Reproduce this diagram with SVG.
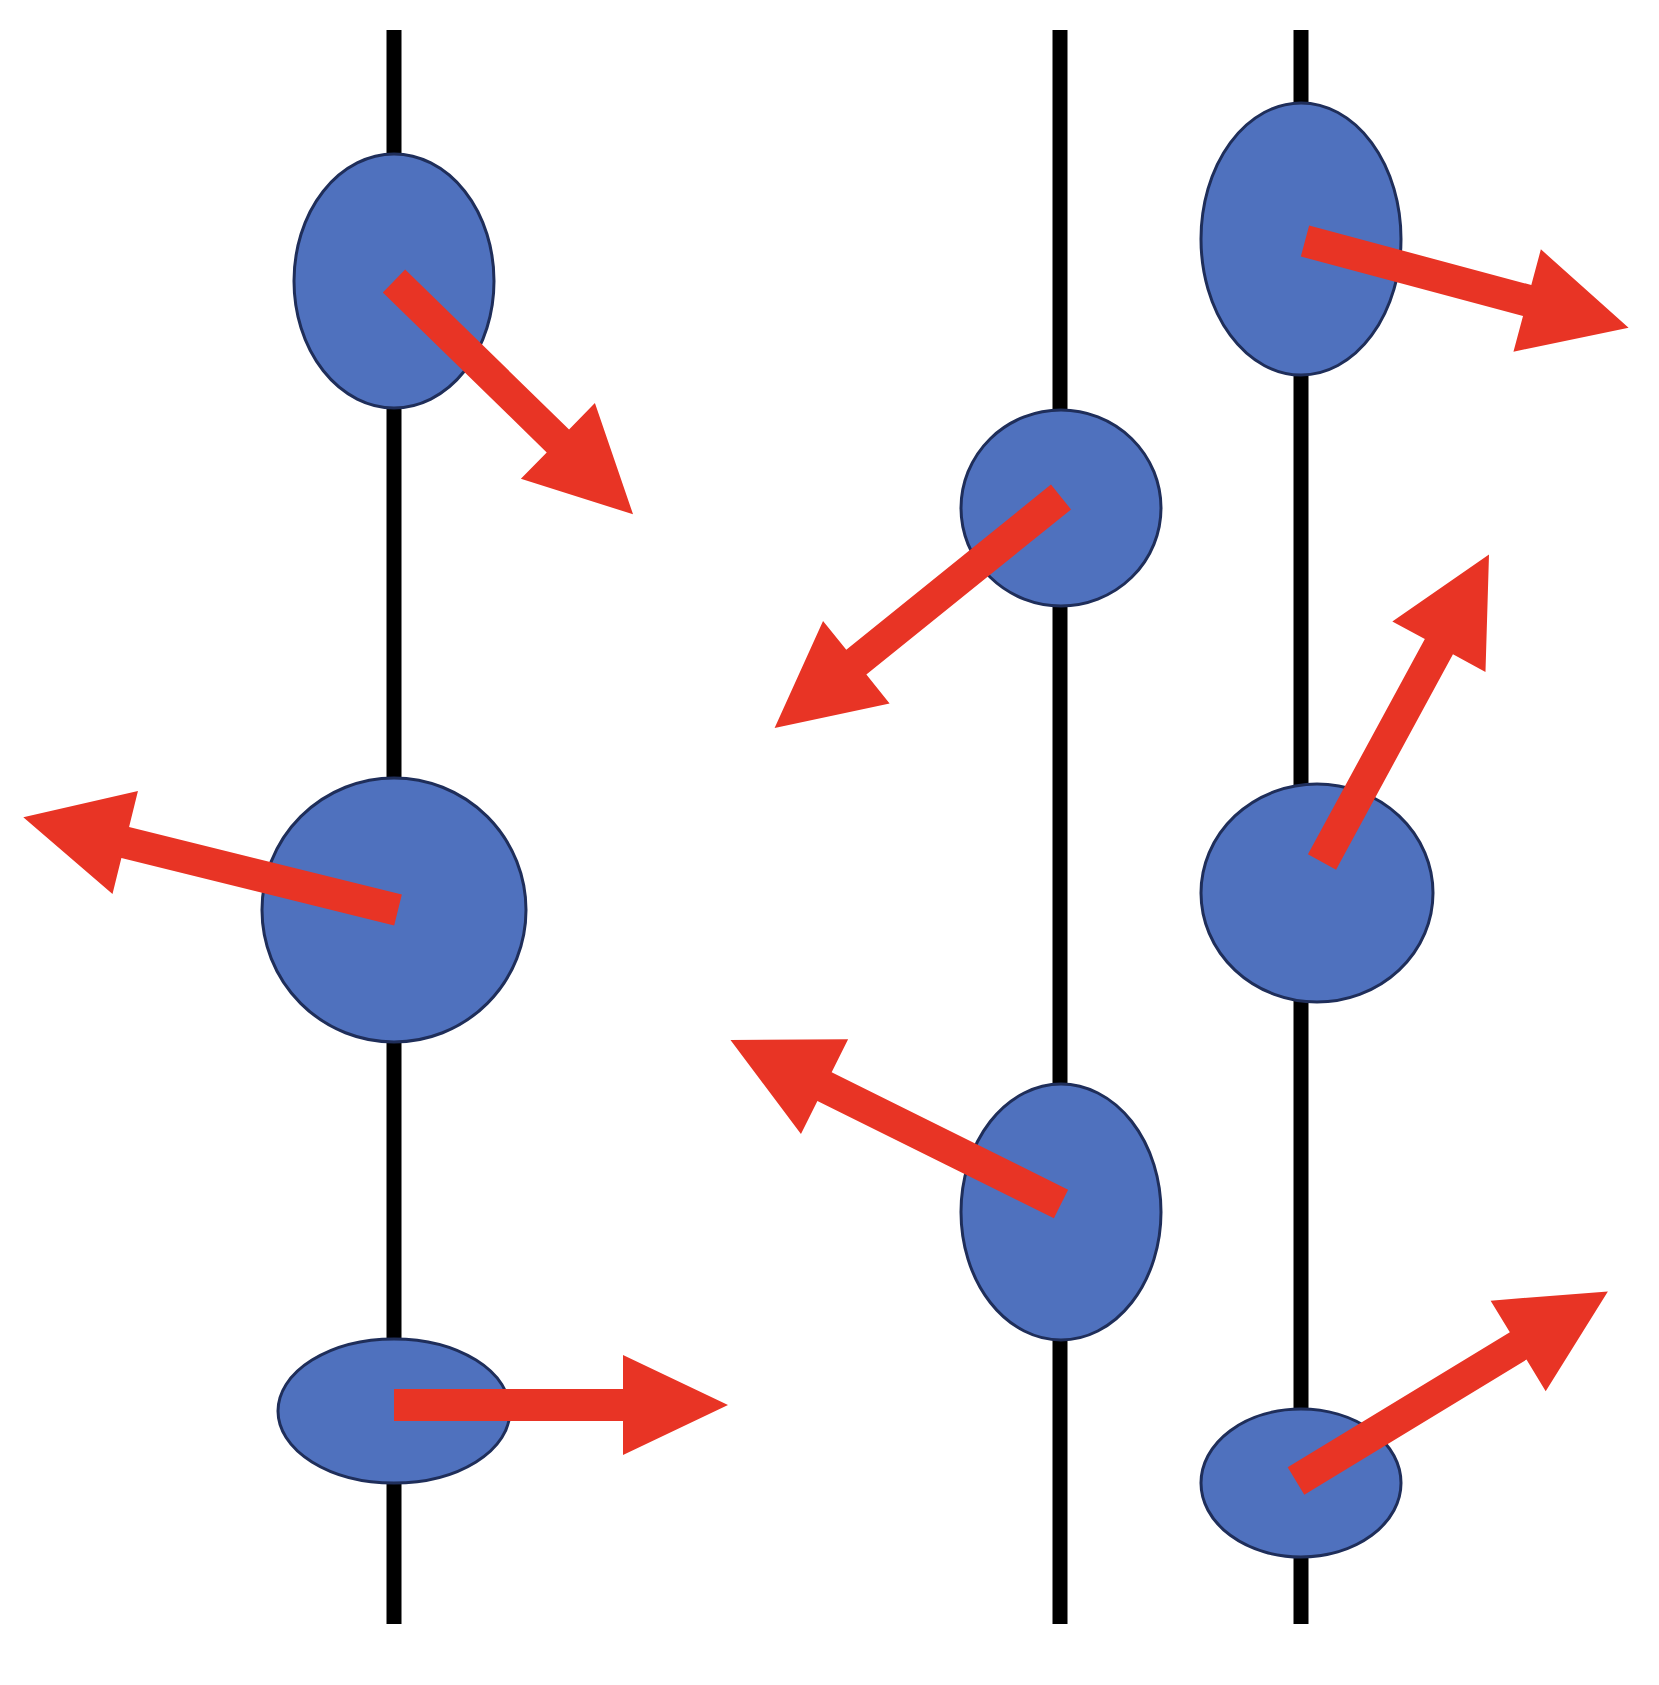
<svg xmlns="http://www.w3.org/2000/svg" width="1659" height="1685" viewBox="0 0 1659 1685">
<style>.ln{stroke:#000;stroke-width:15}.nd{fill:#4F71BE;stroke:#1F2E5A;stroke-width:3}.ar{fill:#E83425}</style>
<rect width="1659" height="1685" fill="#fff"/>
<g id="lines"><line class="ln" x1="394" y1="30" x2="394" y2="1624"/><line class="ln" x1="1060" y1="30" x2="1060" y2="1624"/><line class="ln" x1="1301" y1="30" x2="1301" y2="1624"/></g>
<g id="n1"><ellipse class="nd" cx="394" cy="281" rx="100" ry="127"/></g>
<g id="n2"><ellipse class="nd" cx="394" cy="910" rx="132" ry="132"/></g>
<g id="n3"><ellipse class="nd" cx="394" cy="1411" rx="116" ry="72"/></g>
<g id="n4"><ellipse class="nd" cx="1061" cy="508" rx="100" ry="98"/></g>
<g id="n5"><ellipse class="nd" cx="1061" cy="1212" rx="100" ry="128"/></g>
<g id="n6"><ellipse class="nd" cx="1301" cy="239" rx="100" ry="136"/></g>
<g id="n7"><ellipse class="nd" cx="1317" cy="893" rx="116" ry="109"/></g>
<g id="n8"><ellipse class="nd" cx="1301" cy="1483" rx="100" ry="74"/></g>
<g id="arrows">
<polygon class="ar" transform="translate(394,281) rotate(44.3)" points="0,-16 229,-16 229,-53 334,0 229,53 229,16 0,16"/>
<polygon class="ar" transform="translate(398,910) rotate(193.9)" points="0,-16 281,-16 281,-53 386,0 281,53 281,16 0,16"/>
<polygon class="ar" transform="translate(394,1405)" points="0,-16 229,-16 229,-50 334,0 229,50 229,16 0,16"/>
<polygon class="ar" transform="translate(1061,497) rotate(141.1)" points="0,-16 263,-16 263,-53 368,0 263,53 263,16 0,16"/>
<polygon class="ar" transform="translate(1061,1204) rotate(206.4)" points="0,-16 264,-16 264,-53 369,0 264,53 264,16 0,16"/>
<polygon class="ar" transform="translate(1305,241) rotate(15)" points="0,-16 230,-16 230,-53 335,0 230,53 230,16 0,16"/>
<polygon class="ar" transform="translate(1322,862) rotate(-61.5)" points="0,-16 245,-16 245,-53 350,0 245,53 245,16 0,16"/>
<polygon class="ar" transform="translate(1296,1481) rotate(-31.3)" points="0,-16 260,-16 260,-53 365,0 260,53 260,16 0,16"/>
</g>
</svg>
